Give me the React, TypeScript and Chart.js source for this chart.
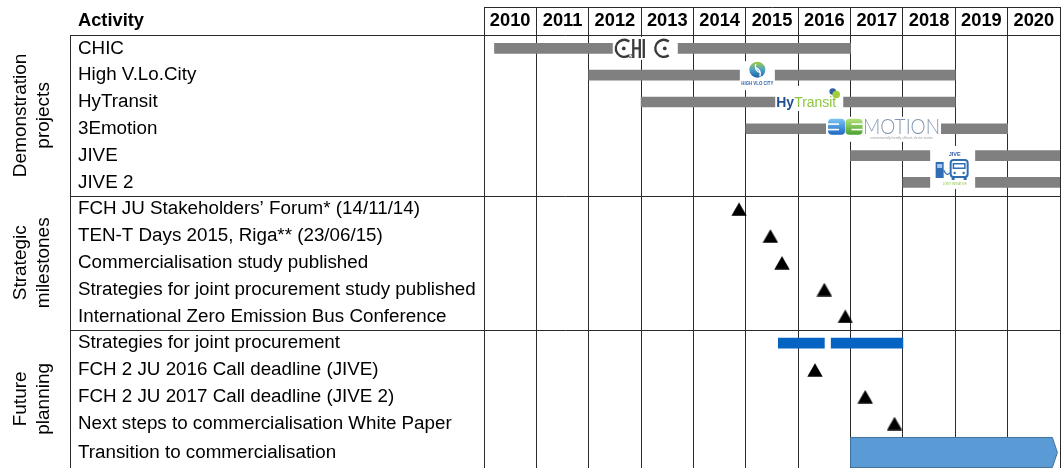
import React, { useEffect, useRef } from 'react';
import { Chart, registerables } from 'chart.js';

Chart.register(...registerables);

const FONT = '"Liberation Sans", Arial, Helvetica, sans-serif';

// ---------------- data ----------------
const yearLabels = ['2010', '2011', '2012', '2013', '2014', '2015', '2016', '2017', '2018', '2019', '2020'];
const firstYear = 2010;
const lastYearEnd = 2021;

const activities = [
  'CHIC',
  'High V.Lo.City',
  'HyTransit',
  '3Emotion',
  'JIVE',
  'JIVE 2',
  'FCH JU Stakeholders\u2019 Forum* (14/11/14)',
  'TEN-T Days 2015, Riga** (23/06/15)',
  'Commercialisation study published',
  'Strategies for joint procurement study published',
  'International Zero Emission Bus Conference',
  'Strategies for joint procurement',
  'FCH 2 JU 2016 Call deadline (JIVE)',
  'FCH 2 JU 2017 Call deadline (JIVE 2)',
  'Next steps to commercialisation White Paper',
  'Transition to commercialisation',
];

const groupTitles = [
  ['Demonstration', 'projects'],
  ['Strategic', 'milestones'],
  ['Future', 'planning'],
];
const groupRowCounts = [6, 5, 5];

const projectNames = ['CHIC', 'High V.Lo.City', 'HyTransit', '3Emotion', 'JIVE', 'JIVE 2'];
const projectStart = [2010.2, 2012, 2013, 2015, 2017, 2018];
const projectEnd = [2017, 2019, 2019, 2020, 2021, 2021];

const milestoneNames = [
  'FCH JU Stakeholders\u2019 Forum* (14/11/14)',
  'TEN-T Days 2015, Riga** (23/06/15)',
  'Commercialisation study published',
  'Strategies for joint procurement study published',
  'International Zero Emission Bus Conference',
  'FCH 2 JU 2016 Call deadline (JIVE)',
  'FCH 2 JU 2017 Call deadline (JIVE 2)',
  'Next steps to commercialisation White Paper',
];
const milestoneDates = [2014.87, 2015.47, 2015.69, 2016.5, 2016.9, 2016.32, 2017.28, 2017.84];

const procurementName = 'Strategies for joint procurement';
const procurementStart = [2015.62, 2016.63];
const procurementEnd = [2016.5, 2018.0];

const transitionName = 'Transition to commercialisation';
const transitionStart = [2017];
const transitionEnd = [2020.95];

// ---------------- layout (not data) ----------------
const W = 1061;
const H = 468;
const TABLE_LEFT = 70;
const LABEL_LEFT = 78;
const LABEL_COL_WIDTH = 406;
const HEADER_HEIGHT = 28;
const Y_MAX = 16.16;
const GROUP_X = 32.5;
const GROUP_LINE_GAP = 23;
const LINE_COLOR = '#2b2b2b';

// logo anchors (year on x axis, project row)
const logoAnchors = [
  { project: 'CHIC', year: 2013.08 },
  { project: 'High V.Lo.City', year: 2015.22 },
  { project: 'HyTransit', year: 2016.23 },
  { project: '3Emotion', year: 2017.63 },
  { project: 'JIVE', year: 2018.95 },
];

function rowCenter(i: number): number {
  return i === activities.length - 1 ? (i + Y_MAX) / 2 : i + 0.5;
}

function makeTriangle(): HTMLCanvasElement {
  const c = document.createElement('canvas');
  c.width = 16;
  c.height = 14;
  const g = c.getContext('2d')!;
  g.fillStyle = '#000';
  g.beginPath();
  g.moveTo(8, 0.3);
  g.lineTo(15.7, 13.7);
  g.lineTo(0.3, 13.7);
  g.closePath();
  g.fill();
  return c;
}

function roundRect(ctx: CanvasRenderingContext2D, x: number, y: number, w: number, h: number, r: number) {
  ctx.beginPath();
  ctx.moveTo(x + r, y);
  ctx.arcTo(x + w, y, x + w, y + h, r);
  ctx.arcTo(x + w, y + h, x, y + h, r);
  ctx.arcTo(x, y + h, x, y, r);
  ctx.arcTo(x, y, x + w, y, r);
  ctx.closePath();
}

function drawChic(ctx: CanvasRenderingContext2D, cx: number, cy: number) {
  ctx.fillStyle = '#fff';
  ctx.fillRect(cx - 32.5, cy - 11.5, 65, 23);
  ctx.strokeStyle = '#3a3a3a';
  ctx.fillStyle = '#3a3a3a';
  ctx.lineWidth = 2.3;
  ctx.beginPath();
  ctx.arc(cx - 21, cy, 8.5, 0.3 * Math.PI, 1.7 * Math.PI);
  ctx.stroke();
  ctx.beginPath();
  ctx.arc(cx - 21.5, cy, 1.9, 0, Math.PI * 2);
  ctx.fill();
  ctx.beginPath();
  ctx.moveTo(cx - 12, cy - 9.5);
  ctx.lineTo(cx - 12, cy + 9.5);
  ctx.moveTo(cx - 5.5, cy - 9.5);
  ctx.lineTo(cx - 5.5, cy + 9.5);
  ctx.moveTo(cx - 12, cy);
  ctx.lineTo(cx - 5.5, cy);
  ctx.moveTo(cx - 1.5, cy - 9.5);
  ctx.lineTo(cx - 1.5, cy + 9.5);
  ctx.stroke();
  ctx.beginPath();
  ctx.arc(cx + 18.5, cy, 8.5, 0.3 * Math.PI, 1.7 * Math.PI);
  ctx.stroke();
  ctx.beginPath();
  ctx.arc(cx + 19.5, cy, 1.9, 0, Math.PI * 2);
  ctx.fill();
  ctx.font = `6px ${FONT}`;
  ctx.textAlign = 'center';
  ctx.textBaseline = 'middle';
  ctx.fillText('2', cx - 14.5, cy + 7.5);
}

function drawHighVLoCity(ctx: CanvasRenderingContext2D, cx: number, cy: number) {
  ctx.fillStyle = '#fff';
  ctx.fillRect(cx - 17.5, cy - 14, 35, 29);
  const gy = cy - 5.5;
  const grad = ctx.createLinearGradient(cx, gy - 8, cx, gy + 8);
  grad.addColorStop(0, '#a5cd3a');
  grad.addColorStop(0.5, '#4aa2c9');
  grad.addColorStop(1, '#1d5fa8');
  ctx.fillStyle = grad;
  ctx.beginPath();
  ctx.arc(cx, gy, 8, 0, Math.PI * 2);
  ctx.fill();
  ctx.strokeStyle = '#ffffff';
  ctx.lineWidth = 1.3;
  ctx.beginPath();
  ctx.arc(cx + 4, gy - 3, 6, 0.55 * Math.PI, 1.15 * Math.PI);
  ctx.stroke();
  ctx.beginPath();
  ctx.arc(cx - 3, gy + 4, 6, 1.55 * Math.PI, 2.15 * Math.PI);
  ctx.stroke();
  ctx.fillStyle = '#2a62ae';
  ctx.font = `bold 6px ${FONT}`;
  ctx.textAlign = 'center';
  ctx.textBaseline = 'middle';
  ctx.fillText('HIGH VLO CITY', cx, cy + 8, 32);
}

function drawHyTransit(ctx: CanvasRenderingContext2D, cx: number, cy: number) {
  ctx.fillStyle = '#fff';
  ctx.fillRect(cx - 35, cy - 16, 68, 25);
  ctx.textAlign = 'left';
  ctx.textBaseline = 'alphabetic';
  ctx.font = `bold 14px ${FONT}`;
  ctx.fillStyle = '#1f4f8f';
  ctx.fillText('Hy', cx - 34, cy + 5, 18);
  ctx.font = `14px ${FONT}`;
  ctx.fillStyle = '#8dc63f';
  ctx.fillText('Transit', cx - 16, cy + 5, 42);
  ctx.fillStyle = '#2d5fa0';
  ctx.beginPath();
  ctx.arc(cx + 22.5, cy - 10.5, 3.3, 0, Math.PI * 2);
  ctx.fill();
  ctx.fillStyle = '#a2cd3a';
  ctx.beginPath();
  ctx.arc(cx + 26, cy - 7.5, 3.8, 0, Math.PI * 2);
  ctx.fill();
}

function draw3Emotion(ctx: CanvasRenderingContext2D, cx: number, cy: number) {
  ctx.fillStyle = '#fff';
  ctx.fillRect(cx - 57.5, cy - 12, 115, 25);
  const top = cy - 10;
  let g = ctx.createLinearGradient(0, top, 0, top + 16);
  g.addColorStop(0, '#7cc4f5');
  g.addColorStop(1, '#1b68c2');
  ctx.fillStyle = g;
  roundRect(ctx, cx - 55.5, top, 17, 16, 4);
  ctx.fill();
  g = ctx.createLinearGradient(0, top, 0, top + 16);
  g.addColorStop(0, '#b5e27a');
  g.addColorStop(1, '#4aa12e');
  ctx.fillStyle = g;
  roundRect(ctx, cx - 38, top, 17, 16, 4);
  ctx.fill();
  ctx.fillStyle = '#fff';
  ctx.fillRect(cx - 55.5, top + 4.5, 11, 1.6);
  ctx.fillRect(cx - 55.5, top + 10, 11, 1.6);
  ctx.fillRect(cx - 32, top + 4.5, 11, 1.6);
  ctx.fillRect(cx - 32, top + 10, 11, 1.6);
  ctx.fillStyle = '#8497ae';
  ctx.font = `300 21px Lato, ${FONT}`;
  ctx.textAlign = 'left';
  ctx.textBaseline = 'alphabetic';
  ctx.fillText('MOTION', cx - 20.5, cy + 5.5, 77);
  ctx.fillStyle = '#9a9a9a';
  ctx.font = `4px ${FONT}`;
  ctx.textAlign = 'center';
  ctx.fillText('environmentally friendly, efficient, electric motion', cx + 18, cy + 10.5, 62);
}

function drawJive(ctx: CanvasRenderingContext2D, cx: number, cy: number) {
  ctx.fillStyle = '#fff';
  ctx.fillRect(cx - 22.5, cy - 23, 45, 43);
  const blue = '#2e6db4';
  ctx.fillStyle = '#2f5da8';
  ctx.font = `bold 5.5px ${FONT}`;
  ctx.textAlign = 'center';
  ctx.textBaseline = 'middle';
  ctx.fillText('JIVE', cx + 2, cy - 14);
  ctx.fillStyle = blue;
  ctx.fillRect(cx - 17, cy - 7, 8, 16);
  ctx.fillStyle = '#a9c9ee';
  ctx.fillRect(cx - 15.5, cy - 5, 5, 4);
  ctx.strokeStyle = blue;
  ctx.lineWidth = 1.2;
  ctx.beginPath();
  ctx.moveTo(cx - 9, cy + 1);
  ctx.quadraticCurveTo(cx - 6, cy + 8, cx - 3, cy + 4);
  ctx.stroke();
  ctx.lineWidth = 2;
  roundRect(ctx, cx - 2, cy - 9, 17, 17, 3);
  ctx.stroke();
  ctx.fillStyle = blue;
  ctx.fillRect(cx, cy - 6, 13, 6);
  ctx.fillStyle = '#fff';
  ctx.fillRect(cx + 1.5, cy - 4.5, 10, 3);
  ctx.fillStyle = blue;
  ctx.fillRect(cx - 1, cy + 8, 3, 3);
  ctx.fillRect(cx + 11, cy + 8, 3, 3);
  ctx.beginPath();
  ctx.arc(cx + 2, cy + 4, 1.2, 0, Math.PI * 2);
  ctx.arc(cx + 11, cy + 4, 1.2, 0, Math.PI * 2);
  ctx.fill();
  ctx.fillStyle = '#8dc63f';
  ctx.font = `4px ${FONT}`;
  ctx.fillText('JOINT INITIATIVE', cx + 2, cy + 15, 24);
}

const logoPainters: Record<string, (ctx: CanvasRenderingContext2D, cx: number, cy: number) => void> = {
  CHIC: drawChic,
  'High V.Lo.City': drawHighVLoCity,
  HyTransit: drawHyTransit,
  '3Emotion': draw3Emotion,
  JIVE: drawJive,
};

const tablePlugin = {
  id: 'tableFrame',
  beforeDatasetsDraw(chart: any) {
    const { ctx, chartArea } = chart;
    const x = chart.scales.x;
    const y = chart.scales.y;
    ctx.save();
    ctx.strokeStyle = LINE_COLOR;
    ctx.lineWidth = 1;
    const hline = (py: number, x0: number) => {
      const yy = Math.round(py) + 0.5;
      ctx.beginPath();
      ctx.moveTo(x0, yy);
      ctx.lineTo(chart.width, yy);
      ctx.stroke();
    };
    hline(x.top, chartArea.left);
    hline(y.getPixelForValue(0), TABLE_LEFT);
    let acc = 0;
    groupRowCounts.slice(0, -1).forEach((n) => {
      acc += n;
      hline(y.getPixelForValue(acc), TABLE_LEFT);
    });
    ctx.beginPath();
    ctx.moveTo(TABLE_LEFT + 0.5, Math.round(y.getPixelForValue(0)));
    ctx.lineTo(TABLE_LEFT + 0.5, chartArea.bottom);
    ctx.stroke();
    ctx.restore();
  },
  afterDraw(chart: any) {
    const { ctx } = chart;
    const x = chart.scales.x;
    const y = chart.scales.y;
    ctx.save();
    ctx.fillStyle = '#000';
    ctx.textAlign = 'left';
    ctx.textBaseline = 'middle';
    ctx.font = `bold 18.3px ${FONT}`;
    ctx.fillText('Activity', y.left, (x.top + x.bottom) / 2);
    let start = 0;
    ctx.font = `19px ${FONT}`;
    ctx.textAlign = 'center';
    groupTitles.forEach((lines, g) => {
      const end = g === groupTitles.length - 1 ? Y_MAX : start + groupRowCounts[g];
      const mid = (y.getPixelForValue(start) + y.getPixelForValue(end)) / 2;
      ctx.save();
      ctx.translate(GROUP_X, mid);
      ctx.rotate(-Math.PI / 2);
      lines.forEach((t, k) => ctx.fillText(t, 0, (k - (lines.length - 1) / 2) * GROUP_LINE_GAP));
      ctx.restore();
      start += groupRowCounts[g];
    });
    ctx.restore();
  },
};

const overlayPlugin = {
  id: 'overlays',
  afterDatasetsDraw(chart: any) {
    const { ctx } = chart;
    const x = chart.scales.x;
    const y = chart.scales.y;
    ctx.save();
    logoAnchors.forEach((a) => {
      const idx = activities.indexOf(a.project);
      const cx = x.getPixelForValue(a.year);
      const cy = a.project === 'JIVE' ? y.getPixelForValue(idx + 1) : y.getPixelForValue(rowCenter(idx));
      logoPainters[a.project](ctx, cx, cy);
    });
    const meta = chart.getDatasetMeta(3);
    meta.data.forEach((el: any) => {
      const p = el.getProps(['x', 'y', 'base', 'height'], true);
      const left = Math.min(p.x, p.base);
      const right = Math.max(p.x, p.base);
      const top = p.y - p.height / 2;
      const bot = p.y + p.height / 2;
      const d = 5;
      ctx.beginPath();
      ctx.moveTo(left, top);
      ctx.lineTo(right - d, top);
      ctx.lineTo(right, p.y);
      ctx.lineTo(right - d, bot);
      ctx.lineTo(left, bot);
      ctx.closePath();
      ctx.fillStyle = '#5b9bd5';
      ctx.fill();
      ctx.strokeStyle = '#41719c';
      ctx.lineWidth = 1;
      ctx.stroke();
    });
    ctx.restore();
  },
};

export default function App() {
  const ref = useRef<HTMLCanvasElement>(null);
  useEffect(() => {
    document.body.style.margin = '0';
    document.body.style.overflow = 'hidden';
    const canvas = ref.current;
    if (!canvas) return;
    const tri = makeTriangle();
    const rowOf = (name: string) => rowCenter(activities.indexOf(name));

    const chart = new Chart(canvas, {
      type: 'bar',
      data: {
        datasets: [
          {
            type: 'scatter',
            label: 'Milestones',
            indexAxis: 'x',
            data: milestoneNames.map((n, k) => ({ x: milestoneDates[k], y: rowOf(n) })),
            pointStyle: tri as any,
            pointRadius: 8,
            pointBorderWidth: 0,
            backgroundColor: '#000',
            borderColor: '#000',
          } as any,
          {
            type: 'bar',
            label: 'Projects',
            indexAxis: 'y',
            grouped: false,
            data: projectNames.map((n, k) => ({ x: [projectStart[k], projectEnd[k]], y: rowOf(n) })),
            backgroundColor: '#808080',
            barThickness: 10,
            borderWidth: 0,
          } as any,
          {
            type: 'bar',
            label: 'Procurement',
            indexAxis: 'y',
            grouped: false,
            data: procurementStart.map((s, k) => ({ x: [s, procurementEnd[k]], y: rowOf(procurementName) })),
            backgroundColor: '#0563c1',
            barThickness: 10,
            borderWidth: 0,
          } as any,
          {
            type: 'bar',
            label: 'Transition',
            indexAxis: 'y',
            grouped: false,
            data: transitionStart.map((s, k) => ({ x: [s, transitionEnd[k]], y: rowOf(transitionName) })),
            backgroundColor: 'rgba(0,0,0,0)',
            barThickness: 30,
            borderWidth: 0,
          } as any,
        ],
      },
      options: {
        indexAxis: 'y',
        responsive: false,
        animation: false,
        devicePixelRatio: 1,
        layout: { autoPadding: false, padding: { left: LABEL_LEFT, top: 7, right: 1, bottom: 0 } },
        plugins: { legend: { display: false }, tooltip: { enabled: false } },
        scales: {
          x: {
            type: 'linear',
            position: 'top',
            min: firstYear,
            max: lastYearEnd,
            offset: false,
            afterBuildTicks: (s: any) => {
              s.ticks = yearLabels.map((_, i) => ({ value: firstYear + i + 0.5 }));
            },
            afterFit: (s: any) => {
              s.height = HEADER_HEIGHT;
              s.paddingLeft = 0;
              s.paddingRight = 0;
            },
            ticks: {
              autoSkip: false,
              maxRotation: 0,
              minRotation: 0,
              padding: -25,
              color: '#000',
              font: { family: FONT, size: 18.3, weight: 'bold' },
              callback: (_v: any, i: number) => yearLabels[i],
            },
            grid: { offset: true, color: LINE_COLOR, lineWidth: 1, tickLength: HEADER_HEIGHT, drawTicks: true },
            border: { display: false },
          },
          y: {
            type: 'linear',
            reverse: true,
            min: 0,
            max: Y_MAX,
            offset: false,
            afterBuildTicks: (s: any) => {
              s.ticks = activities.map((_, i) => ({ value: rowCenter(i) }));
            },
            afterFit: (s: any) => {
              s.width = LABEL_COL_WIDTH;
              s.paddingTop = 0;
              s.paddingBottom = 0;
            },
            ticks: {
              autoSkip: false,
              crossAlign: 'far',
              padding: 0,
              color: '#000',
              font: { family: FONT, size: 18.8 },
              callback: (_v: any, i: number) => activities[i],
            },
            grid: { display: false },
            border: { display: false },
          },
        },
      } as any,
      plugins: [tablePlugin, overlayPlugin],
    });
    return () => chart.destroy();
  }, []);

  return (
    <div style={{ width: W, height: H }}>
      <canvas ref={ref} width={W} height={H} style={{ display: 'block' }} />
    </div>
  );
}
